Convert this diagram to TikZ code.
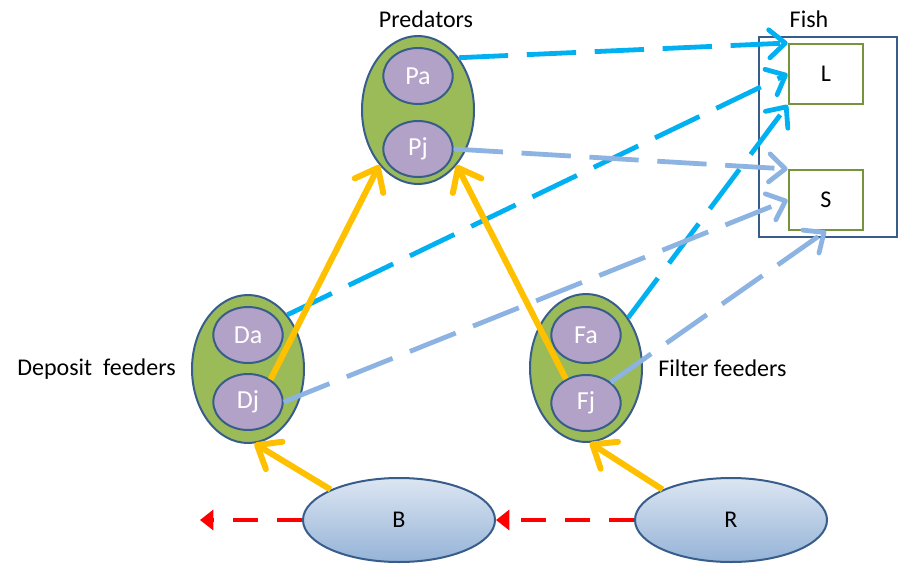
\documentclass[tikz,border=0pt]{standalone}
\usepackage{fontspec}
\setmainfont{Carlito}
\definecolor{grp}{HTML}{9BBB59}
\definecolor{edge}{HTML}{385D8A}
\definecolor{stg}{HTML}{B3A2C7}
\definecolor{boxgreen}{HTML}{77933C}
\definecolor{bigc}{HTML}{00B0F0}
\definecolor{smallc}{HTML}{8DB3E2}
\definecolor{yel}{HTML}{FFC000}
\definecolor{pooltop}{HTML}{DCE6F2}
\definecolor{poolbot}{HTML}{95B3D7}
\usetikzlibrary{positioning,arrows.meta,shapes.geometric}

\begin{document}
\begin{tikzpicture}[x=0.75pt,y=-0.75pt,
  every node/.style={font=\fontsize{18}{21}\selectfont},
  group/.style={ellipse,draw=edge,line width=1.5pt,fill=grp,minimum width=84pt,minimum height=111pt},
  stage/.style={ellipse,draw=edge,line width=1.5pt,fill=stg,text=white,font=\fontsize{19.5}{22}\selectfont,minimum width=52pt,minimum height=42pt,inner sep=0pt},
  pool/.style={ellipse,draw=edge,line width=1.5pt,top color=pooltop,bottom color=poolbot,minimum width=144pt,minimum height=63pt},
  size/.style={draw=boxgreen,line width=1.5pt,fill=white,minimum width=56pt,minimum height=45pt},
  eat/.style={line width=4.5pt,draw=yel,-{Straight Barb[round,length=15pt,width=24pt]}},
  tolarge/.style={line width=3.6pt,draw=bigc,dash pattern=on 37pt off 14pt,-{Straight Barb[round,length=12pt,width=21pt]}},
  tosmall/.style={line width=3.6pt,draw=smallc,dash pattern=on 37pt off 14pt,-{Straight Barb[round,length=12pt,width=21pt]}},
  export/.style={line width=3pt,draw=red,dash pattern=on 19pt off 14pt,-{Triangle[length=10pt,width=15pt]}}]
\useasboundingbox (0,0) rectangle (899,564);

% fish
\node [draw=edge,line width=1.5pt,minimum width=104pt,minimum height=150pt] (fish) at (828,137) {};
\node (fishlbl) at (809,19) {Fish};
\node [size] (L) at (826,74) {L};
\node [size] (S) at (826,200) {S};

% groups
\node [group] (pred) at (418,110) {};
\node [above=2pt of pred,xshift=6pt] (predlbl) {Predators};
\node [group] (dep) at (248,369) {};
\node [left=8pt of dep] (deplbl) {Deposit\ \ feeders};
\node [group] (fil) at (586,368) {};
\node [right=8pt of fil] (fillbl) {Filter feeders};

% pools
\node [pool] (B) at (399,520) {B};
\node [pool] (R) at (731,520) {R};
\coordinate (out) at (200,520);

% feeding links
\draw [tolarge] (pred.52) -- (L.north west);
\draw [tolarge] (dep.54) -- (L.west);
\draw [tolarge] (fil.50) -- (L.south west);

% stages
\node [stage] (Pa) at (418,76) {Pa};
\node [stage] (Pj) at (418,149) {Pj};
\node [stage] (Da) at (248,335) {Da};
\node [stage] (Dj) at (248,402) {Dj};
\node [stage] (Fa) at (586,335) {Fa};
\node [stage] (Fj) at (586,403) {Fj};

\draw [tosmall] (Pj.east) -- (S.north west);
\draw [tosmall] (Dj.east) -- (S.west);
\draw [tosmall] (Fj.40) -- (S.south);

\draw [eat] (Dj.45) -- (pred.235);
\draw [eat] (Fj.130) -- (pred.305);
\draw [eat] (B.156) -- (dep.275);
\draw [eat] (R.156) -- (fil.273);

\draw [export] (B.west) -- (out);
\draw [export] (R.west) -- (B.east);
\end{tikzpicture}
\end{document}
